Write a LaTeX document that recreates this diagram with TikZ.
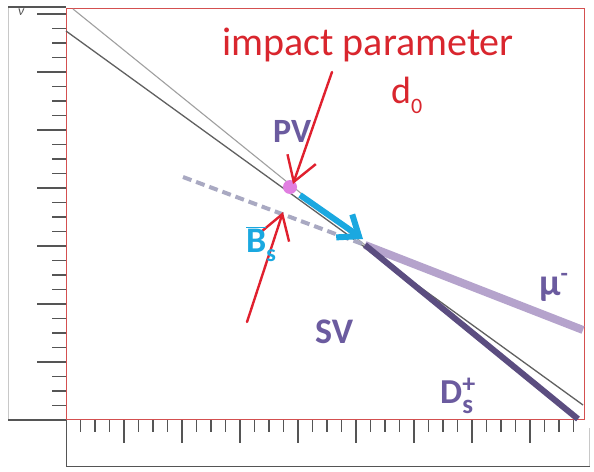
\documentclass[tikz,border=0pt]{standalone}
\usepackage{fontspec}
\setmainfont{Carlito}
\usetikzlibrary{arrows.meta}
\definecolor{redtxt}{HTML}{D9262E}
\definecolor{redarr}{HTML}{E0202E}
\definecolor{framered}{HTML}{D45050}
\definecolor{purptxt}{HTML}{6B5B9F}
\definecolor{cyantxt}{HTML}{1AA8E0}
\definecolor{tickc}{HTML}{555555}
\definecolor{lightax}{HTML}{C8C8C8}
\definecolor{mucol}{HTML}{B5A3CC}
\definecolor{dscol}{HTML}{5B4D80}
\definecolor{dashcol}{HTML}{A9A9C2}
\definecolor{pvcol}{HTML}{E07EE0}
\definecolor{lightline}{HTML}{A0A0A0}
\definecolor{darkline}{HTML}{606060}
\newcommand{\mysz}[2]{{\fontsize{#1}{#1}\selectfont #2}}
\begin{document}
\begin{tikzpicture}[x=1pt,y=-1pt,
  tick/.style={draw=tickc,line width=1.3pt},
  lbl/.style={inner sep=0pt,anchor=base west},
  redarrow/.style={draw=redarr,line width=2.4pt,line cap=round,
     -{Straight Barb[length=24pt,width=30pt,line width=2.4pt]}},
  track/.style={line cap=butt}]
\useasboundingbox (0,0) rectangle (594,471);
\fill[white] (0,0) rectangle (594,471);
% axes frames
\draw[lightax,line width=0.8pt] (8,7) -- (8,420);
\draw[tickc,line width=1.2pt] (8,7) -- (66,7);
\draw[tickc,line width=1.2pt] (8,420) -- (66,420);
\draw[tickc,line width=1pt] (66,420) -- (66,466) -- (590,466);
\draw[lightax,line width=0.8pt] (589,428) -- (589,466);
% left ticks
\foreach \k in {1,...,28} \draw[tick] (66,{420-14.5*\k}) -- ++(-14,0);
\foreach \k in {4,8,...,28} \draw[tick] (66,{420-14.5*\k}) -- ++(-29,0);
% bottom ticks
\foreach \k in {1,...,35} \draw[tick] ({66+14.5*\k},420) -- ++(0,12);
\foreach \k in {4,8,...,32} \draw[tick] ({66+14.5*\k},420) -- ++(0,23);
\node[inner sep=0pt,text=tickc] (nu) at (21,12) {\mysz{14}{\itshape ν}};
% red frame
\draw[framered,line width=1pt] (66,8) rectangle (584,419);
% coordinates
\coordinate (PV) at (290,187);
\coordinate (SV) at (365,245);
\coordinate (L1a) at (73,9);
\coordinate (L2a) at (66,31);
\coordinate (L2b) at (583,405);
\coordinate (MUe) at (583,330);
\coordinate (DSe) at (578,419);
\coordinate (DAs) at (183,177);
\coordinate (BSs) at (300,195);
\coordinate (BSe) at (363,239);
\coordinate (A1s) at (332,72);
\coordinate (A1e) at (293,184);
\coordinate (A2s) at (247,322);
\coordinate (A2e) at (283,212);
% thin lines
\draw[lightline,line width=1.1pt] (L1a) -- (SV);
\draw[darkline,line width=1.3pt] (L2a) -- (L2b);
% dashed extension
\draw[dashcol,line width=4pt,dash pattern=on 9pt off 5pt] (DAs) -- (SV);
% tracks
\draw[mucol,line width=8pt,track] (SV) -- (MUe);
\draw[dscol,line width=6pt,track] (SV) -- (DSe);
% B_s arrow
\draw[cyantxt,line width=6pt,line join=round,
  -{Straight Barb[length=18pt,width=28pt,line width=6pt]}] (BSs) -- (BSe);
% PV blob
\fill[pvcol] (PV) circle (7);
% red arrows
\draw[redarrow] (A1s) -- (A1e);
\draw[redarrow] (A2s) -- (A2e);
% labels
\node[lbl,text=redtxt] (imp) at (222,55) {\mysz{40}{impact parameter}};
\node[lbl,text=redtxt] (d0) at (391,103) {\mysz{38}{d}\raisebox{-10pt}{\mysz{22}{0}}};
\node[lbl,text=purptxt,font=\bfseries] (pvl) at (273,142) {\mysz{34}{PV}};
\node[lbl,text=purptxt,font=\bfseries] (svl) at (315,343) {\mysz{36}{SV}};
\node[lbl,text=purptxt,font=\bfseries] (mul) at (539,295) {\mysz{38}{μ}\raisebox{14pt}{\mysz{24}{-}}};
\node[lbl,text=purptxt,font=\bfseries] (dsl) at (440,403) {\mysz{35}{D}\rlap{\raisebox{-10pt}{\mysz{27}{s}}}\raisebox{11pt}{\mysz{26}{+}}};
\node[lbl,text=cyantxt,font=\bfseries] (bsl) at (246,252) {\mysz{36}{$\overline{\mbox{B}}$}\raisebox{-9pt}{\mysz{24}{s}}};
\end{tikzpicture}
\end{document}
